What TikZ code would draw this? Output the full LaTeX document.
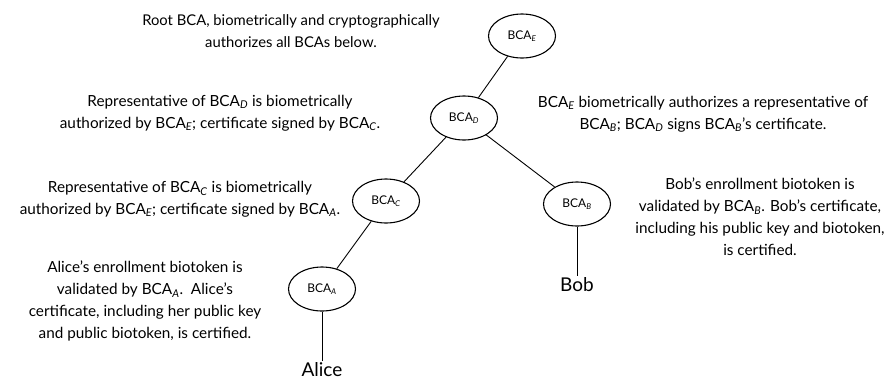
\documentclass[tikz,border=0pt]{standalone}
\usepackage{fontspec}
\setmainfont{Lato}
\usetikzlibrary{shapes.geometric}
\newcommand\sbs[1]{\textsubscript{\itshape #1}}
\tikzset{
  bca/.style={draw, ellipse, minimum width=67pt, minimum height=44pt, inner sep=0pt, line width=1.1pt, font=\fontsize{12}{14}\selectfont},
  txt/.style={align=center, font=\fontsize{15.3}{22}\selectfont},
  who/.style={font=\fontsize{19}{22}\selectfont, inner sep=2pt},
  conn/.style={line width=0.9pt}
}
\begin{document}
\begin{tikzpicture}[x=1pt,y=-1pt]
\useasboundingbox (0,0) rectangle (889,384);
\node[bca] (E) at (522,36) {BCA\sbs{E}};
\node[bca] (D) at (464,118) {BCA\sbs{D}};
\node[bca] (C) at (386,201) {BCA\sbs{C}};
\node[bca] (B) at (577,204) {BCA\sbs{B}};
\node[bca] (A) at (322,289) {BCA\sbs{A}};
\node[who] (alice) at (322,370) {Alice};
\node[who] (bob) at (577,285) {Bob};
\draw[conn] (E) -- (D);
\draw[conn] (D) -- (C);
\draw[conn] (D) -- (B);
\draw[conn] (C) -- (A);
\draw[conn] (A) -- (alice);
\draw[conn] (B) -- (bob);
\node[txt, font=\fontsize{14.8}{22}\selectfont] (t1) at (291,31) {Root BCA, biometrically and cryptographically\\authorizes all BCAs below.};
\node[txt] (t2) at (220,113) {Representative of BCA\sbs{D} is biometrically\\authorized by BCA\sbs{E}; certificate signed by BCA\sbs{C}.};
\node[txt] (t3) at (703,114) {BCA\sbs{E} biometrically authorizes a representative of\\BCA\sbs{B}; BCA\sbs{D} signs BCA\sbs{B}'s certificate.};
\node[txt] (t4) at (180,199) {Representative of BCA\sbs{C} is biometrically\\authorized by BCA\sbs{E}; certificate signed by BCA\sbs{A}.};
\node[txt] (t5) at (760,217) {Bob's enrollment biotoken is\\validated by BCA\sbs{B}. Bob's certificate,\\including his public key and biotoken,\\is certified.};
\node[txt] (t6) at (145,301) {Alice's enrollment biotoken is\\validated by BCA\sbs{A}.\ \ Alice's\\certificate, including her public key\\and public biotoken, is certified.};
\end{tikzpicture}
\end{document}
